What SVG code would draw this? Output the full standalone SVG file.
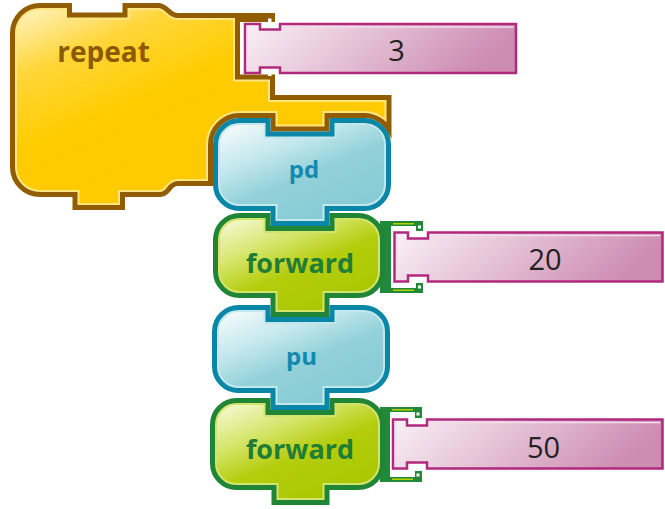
<svg xmlns="http://www.w3.org/2000/svg" xmlns:xlink="http://www.w3.org/1999/xlink" width="665" height="509" viewBox="0 0 665 509">
<style>
.lbl{font-family:"Open Sans","Liberation Sans",sans-serif;font-weight:bold;text-anchor:middle}
.num{font-family:"Open Sans","Liberation Sans",sans-serif;font-size:29px;fill:#222;text-anchor:middle}
.pink{fill:url(#gP);stroke:#b1297c;stroke-width:2.5}
.pinkIn{fill:none;stroke:#f3dbe8;stroke-width:1.6}
.br{fill:#218a3a}
.brl{stroke:#b8d000;stroke-width:1.6}
.sq{fill:#fff}
</style>
<defs>
<linearGradient id="gY" x1="0" y1="0" x2="0.8" y2="1">
<stop offset="0" stop-color="#fff6d0"/><stop offset="0.22" stop-color="#ffd63a"/><stop offset="0.45" stop-color="#ffcc00"/><stop offset="1" stop-color="#ffc900"/>
</linearGradient>
<linearGradient id="gT" x1="0" y1="0" x2="0.7" y2="1">
<stop offset="0" stop-color="#ffffff"/><stop offset="0.35" stop-color="#c4e8ed"/><stop offset="0.6" stop-color="#93d1d9"/><stop offset="1" stop-color="#84cad3"/>
</linearGradient>
<linearGradient id="gG" x1="0" y1="0" x2="0.7" y2="1">
<stop offset="0" stop-color="#fbfde8"/><stop offset="0.35" stop-color="#d5e56a"/><stop offset="0.6" stop-color="#b4cd0c"/><stop offset="1" stop-color="#a9c600"/>
</linearGradient>
<linearGradient id="gP" x1="0" y1="0" x2="1" y2="0.2">
<stop offset="0" stop-color="#f9f1f6"/><stop offset="1" stop-color="#cd8cb2"/>
</linearGradient>
<path id="s-repeat" d="M 12.5,33 A 27.5 27.5 0 0 1 40,5.5 H 69.5 V 15 H 125 V 5.5 H 158 C 168,5.5 168,15.5 178,15.5 H 272.5 V 19.5 H 237.5 V 77 H 272.5 V 97.5 H 389 V 129.8 A 29 29 0 0 0 364.5,115.5 H 327 V 129 H 273 V 115.5 H 239.5 A 29 29 0 0 0 210.5,144.5 V 183.5 H 178 C 168,183.5 170,194.5 160,194.5 H 122.5 V 207.5 H 75 V 194.5 H 40 A 27.5 27.5 0 0 1 12.5,167 Z"/>
<path id="s-pd" d="M 215.5,144.5 A 24 24 0 0 1 239.5,120.5 H 268 V 134 H 332 V 120.5 H 364.5 A 24 24 0 0 1 388.5,144.5 V 184.5 A 24 24 0 0 1 364.5,208.5 H 327 V 223.5 H 273 V 208.5 H 239.5 A 24 24 0 0 1 215.5,184.5 Z"/>
<path id="s-fw1" d="M 215.5,239.5 A 24 24 0 0 1 239.5,215.5 H 268 V 228.5 H 332 V 215.5 H 358.5 A 24 24 0 0 1 382.5,239.5 V 271.5 A 24 24 0 0 1 358.5,295.5 H 327 V 314.5 H 273 V 295.5 H 239.5 A 24 24 0 0 1 215.5,271.5 Z"/>
<path id="s-pu" d="M 214.5,331.5 A 24 24 0 0 1 238.5,307.5 H 268 V 319.5 H 332 V 307.5 H 363.5 A 24 24 0 0 1 387.5,331.5 V 366.5 A 24 24 0 0 1 363.5,390.5 H 327 V 407.5 H 273 V 390.5 H 238.5 A 24 24 0 0 1 214.5,366.5 Z"/>
<path id="s-fw2" d="M 212.5,424.5 A 24 24 0 0 1 236.5,400.5 H 268 V 412.5 H 332 V 400.5 H 358.5 A 24 24 0 0 1 382.5,424.5 V 463.5 A 24 24 0 0 1 358.5,487.5 H 327 V 502.5 H 274 V 487.5 H 236.5 A 24 24 0 0 1 212.5,463.5 Z"/>
<clipPath id="c-repeat"><use xlink:href="#s-repeat"/></clipPath>
<clipPath id="c-pd"><use xlink:href="#s-pd"/></clipPath>
<clipPath id="c-fw1"><use xlink:href="#s-fw1"/></clipPath>
<clipPath id="c-pu"><use xlink:href="#s-pu"/></clipPath>
<clipPath id="c-fw2"><use xlink:href="#s-fw2"/></clipPath>
</defs>

<g id="repeat">
<use xlink:href="#s-repeat" fill="url(#gY)"/>
<use xlink:href="#s-repeat" fill="none" stroke="#ffe680" stroke-width="9" clip-path="url(#c-repeat)"/>
<use xlink:href="#s-repeat" fill="none" stroke="#925d00" stroke-width="5"/>
<rect class="sq" x="268" y="18.5" width="3.5" height="3.5"/>
<rect class="sq" x="268" y="72.5" width="3.5" height="3.5"/>
<text class="lbl" x="103.5" y="62" font-size="28" fill="#8c5900">repeat</text>
</g>

<g id="input-3">
<path class="pink" d="M 245,24 H 260 V 29.5 H 280 V 24 H 516 V 73 H 280 V 67.5 H 260 V 73 H 245 Z"/>
<path class="pinkIn" d="M 247.5,26.5 V 70.5 M 282.5,27 H 513.5"/>
<text class="num" x="396.5" y="61">3</text>
</g>

<g id="pd">
<use xlink:href="#s-pd" fill="url(#gT)"/>
<use xlink:href="#s-pd" fill="none" stroke="#c2e8ee" stroke-width="9" clip-path="url(#c-pd)"/>
<use xlink:href="#s-pd" fill="none" stroke="#0a87a7" stroke-width="5"/>
<text class="lbl" x="304" y="177.5" font-size="24" fill="#1489ad">pd</text>
</g>

<g id="forward-1">
<path class="br" d="M 380,221 H 423 V 231 H 416 V 226 H 391 V 288 H 416 V 283 H 423 V 293 H 380 Z"/>
<rect class="sq" x="418" y="225.5" width="3" height="3"/>
<rect class="sq" x="418" y="285.5" width="3" height="3"/>
<path class="brl" d="M 393,223.8 H 414 M 393,290.2 H 414"/>
<use xlink:href="#s-fw1" fill="url(#gG)"/>
<use xlink:href="#s-fw1" fill="none" stroke="#d3e46a" stroke-width="9" clip-path="url(#c-fw1)"/>
<use xlink:href="#s-fw1" fill="none" stroke="#208537" stroke-width="5"/>
<text class="lbl" x="300" y="273" font-size="27" fill="#1f7d36">forward</text>
</g>

<g id="input-20">
<path class="pink" d="M 394.5,232.5 H 408 V 238.5 H 428 V 232.5 H 662.5 V 281.5 H 428 V 275.5 H 408 V 281.5 H 394.5 Z"/>
<path class="pinkIn" d="M 397,235 V 279 M 430.5,235.5 H 660"/>
<text class="num" x="545" y="270">20</text>
</g>

<g id="pu">
<use xlink:href="#s-pu" fill="url(#gT)"/>
<use xlink:href="#s-pu" fill="none" stroke="#c2e8ee" stroke-width="9" clip-path="url(#c-pu)"/>
<use xlink:href="#s-pu" fill="none" stroke="#0a87a7" stroke-width="5"/>
<text class="lbl" x="301.5" y="365" font-size="24" fill="#1489ad">pu</text>
</g>

<g id="forward-2">
<path class="br" d="M 380,407 H 422 V 418 H 415 V 412 H 390 V 477 H 415 V 471 H 422 V 482 H 380 Z"/>
<rect class="sq" x="416.5" y="412.5" width="3" height="3"/>
<rect class="sq" x="416.5" y="473.5" width="3" height="3"/>
<path class="brl" d="M 392,409.8 H 413 M 392,479.2 H 413"/>
<use xlink:href="#s-fw2" fill="url(#gG)"/>
<use xlink:href="#s-fw2" fill="none" stroke="#d3e46a" stroke-width="9" clip-path="url(#c-fw2)"/>
<use xlink:href="#s-fw2" fill="none" stroke="#208537" stroke-width="5"/>
<text class="lbl" x="300" y="458.5" font-size="27" fill="#1f7d36">forward</text>
</g>

<g id="input-50">
<path class="pink" d="M 393,419.5 H 407 V 425.5 H 427 V 419.5 H 662.5 V 468.5 H 427 V 462.5 H 407 V 468.5 H 393 Z"/>
<path class="pinkIn" d="M 395.5,422 V 466 M 429.5,422.5 H 660"/>
<text class="num" x="543.5" y="458">50</text>
</g>

<g id="connectors"></g>
</svg>
